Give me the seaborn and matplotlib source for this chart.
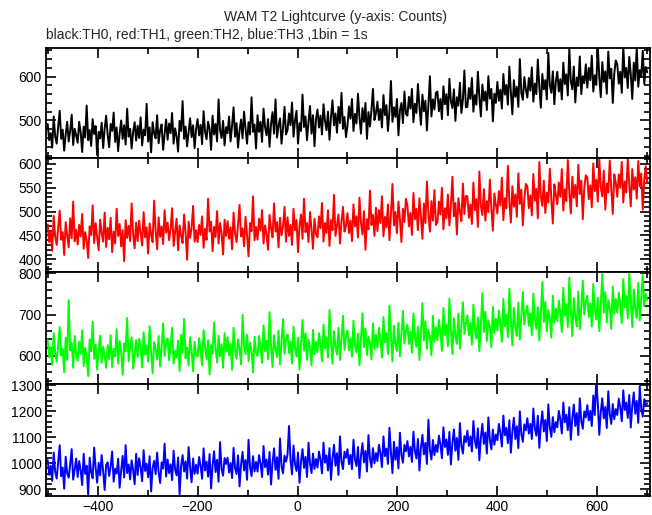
import numpy as np
import pandas as pd
import matplotlib
matplotlib.use("Agg")
import matplotlib.pyplot as plt
from matplotlib.ticker import MultipleLocator
import seaborn as sns

sns.set_style("ticks")
plt.rcParams['font.family'] = ['Liberation Sans', 'DejaVu Sans']

# time bins (s), 3 s sampling of the 1 s light curve
time = np.arange(-500, 701, 3)

th0 = [492, 455, 471, 438, 509, 463, 447, 486, 522, 458, 479, 431, 468, 497, 452, 476, 513, 444, 481, 466,
       449, 497, 473, 428, 486, 461, 534, 455, 478, 442, 503, 469, 487, 421, 474, 459, 495, 437, 482, 511,
       467, 439, 492, 476, 518, 451, 484, 430, 470, 500, 458, 489, 445, 527, 463, 481, 436, 474, 496, 454,
       488, 460, 507, 443, 479, 466, 538, 452, 484, 427, 496, 471, 459, 512, 448, 477, 491, 433, 469, 502,
       456, 493, 471, 517, 447, 482, 464, 429, 499, 476, 544, 458, 486, 441, 473, 505, 462, 489, 437, 480,
       503, 466, 490, 446, 521, 474, 457, 497, 481, 433, 511, 468, 492, 452, 548, 477, 460, 499, 443, 485,
       471, 509, 452, 488, 530, 463, 494, 438, 477, 502, 459, 520, 481, 447, 496, 468, 553, 474, 491, 436,
       512, 474, 497, 451, 527, 485, 466, 503, 440, 492, 519, 470, 548, 461, 488, 505, 447, 483, 531, 468,
       478, 516, 489, 541, 463, 500, 522, 447, 494, 476, 559, 485, 509, 455, 497, 533, 470, 512, 441, 503,
       525, 484, 511, 468, 537, 499, 478, 520, 456, 507, 546, 489, 516, 472, 531, 494, 563, 481, 508, 462,
       488, 532, 504, 549, 476, 515, 493, 561, 507, 470, 528, 497, 540, 458, 519, 486, 524, 572, 501, 517,
       543, 501, 526, 484, 558, 512, 535, 476, 521, 590, 497, 530, 508, 549, 466, 523, 540, 494, 566, 515,
       511, 554, 527, 572, 496, 538, 517, 583, 532, 490, 559, 521, 545, 477, 536, 601, 509, 548, 525, 563,
       566, 521, 549, 503, 578, 537, 560, 512, 595, 544, 528, 571, 499, 553, 534, 586, 517, 547, 614, 530,
       531, 574, 549, 597, 520, 558, 536, 611, 553, 509, 582, 545, 566, 524, 601, 550, 572, 498, 561, 540,
       588, 545, 570, 527, 606, 559, 581, 536, 623, 565, 514, 592, 554, 577, 531, 640, 562, 547, 599, 571,
       552, 597, 568, 621, 543, 584, 560, 639, 576, 529, 606, 571, 592, 548, 654, 580, 563, 612, 537, 589,
       611, 566, 594, 548, 632, 583, 605, 557, 664, 590, 571, 623, 541, 598, 579, 646, 560, 601, 585, 628,
       575, 620, 592, 648, 566, 603, 581, 669, 599, 553, 633, 588, 612, 561, 657, 596, 618, 540, 607, 637,
       628, 584, 611, 563, 671, 598, 620, 574, 645, 606, 549, 632, 591, 668, 577, 615, 600, 659, 583, 622,
       610]

th1 = [473, 436, 459, 418, 491, 447, 430, 466, 502, 441, 457, 409, 478, 450, 425, 486, 444, 521, 438, 462,
       431, 472, 448, 495, 422, 457, 440, 403, 469, 451, 513, 434, 476, 446, 419, 483, 455, 437, 498, 426,
       466, 442, 487, 415, 458, 433, 506, 449, 474, 427, 461, 396, 482, 445, 470, 438, 517, 452, 423, 477,
       438, 481, 455, 429, 499, 446, 467, 412, 475, 451, 436, 523, 460, 421, 488, 447, 469, 432, 503, 456,
       477, 440, 463, 507, 428, 458, 485, 419, 471, 449, 434, 494, 456, 399, 479, 445, 466, 512, 437, 461,
       436, 472, 451, 490, 424, 464, 441, 527, 458, 479, 417, 468, 447, 501, 433, 476, 455, 410, 483, 449,
       480, 443, 467, 421, 498, 455, 436, 472, 514, 448, 465, 427, 489, 451, 406, 476, 459, 532, 440, 468,
       441, 485, 460, 503, 433, 471, 452, 420, 493, 465, 446, 517, 458, 478, 425, 487, 450, 469, 510, 437,
       488, 449, 472, 430, 506, 461, 482, 415, 470, 494, 443, 527, 457, 476, 436, 499, 464, 422, 485, 453,
       446, 490, 465, 518, 437, 476, 455, 503, 428, 482, 461, 535, 449, 472, 494, 433, 479, 510, 458, 470,
       497, 455, 481, 438, 515, 469, 490, 446, 529, 476, 452, 501, 420, 484, 463, 544, 472, 493, 449, 508,
       459, 503, 476, 532, 448, 489, 467, 515, 440, 494, 558, 471, 499, 455, 521, 483, 436, 506, 478, 527,
       512, 469, 497, 451, 539, 484, 506, 461, 528, 490, 443, 517, 476, 563, 495, 458, 522, 481, 545, 472,
       477, 521, 494, 550, 463, 507, 486, 536, 471, 512, 573, 490, 518, 452, 528, 501, 480, 559, 495, 533,
       532, 487, 515, 474, 561, 503, 526, 468, 584, 511, 493, 547, 481, 522, 499, 567, 506, 460, 538, 514,
       496, 543, 513, 571, 482, 528, 507, 596, 521, 477, 553, 510, 536, 489, 580, 516, 546, 471, 527, 558,
       553, 507, 534, 492, 579, 523, 548, 486, 604, 531, 512, 565, 497, 540, 519, 590, 526, 475, 557, 535,
       515, 561, 531, 589, 502, 547, 522, 608, 540, 496, 573, 529, 556, 511, 598, 537, 565, 484, 550, 576,
       572, 526, 555, 509, 601, 543, 567, 521, 610, 551, 532, 586, 504, 559, 540, 607, 547, 495, 578, 561,
       531, 578, 550, 604, 519, 563, 540, 611, 557, 511, 589, 546, 572, 527, 606, 553, 580, 504, 566, 595,
       560]

th2 = [639, 596, 621, 578, 655, 607, 585, 628, 670, 601, 617, 560, 644, 590, 735, 613, 632, 571, 648, 604,
       588, 634, 605, 662, 575, 619, 597, 551, 640, 611, 683, 593, 627, 566, 614, 649, 583, 622, 600, 571,
       626, 592, 650, 573, 617, 599, 664, 581, 636, 608, 554, 630, 611, 692, 587, 621, 645, 569, 603, 638,
       597, 641, 618, 572, 657, 603, 625, 586, 672, 609, 558, 633, 616, 591, 648, 574, 621, 679, 600, 629,
       642, 589, 624, 668, 581, 612, 596, 637, 563, 651, 607, 690, 594, 620, 577, 645, 613, 562, 634, 601,
       598, 643, 611, 577, 662, 620, 592, 638, 555, 626, 605, 681, 617, 584, 649, 599, 628, 571, 655, 610,
       645, 601, 629, 566, 668, 612, 593, 640, 617, 579, 699, 625, 604, 651, 587, 632, 613, 560, 646, 608,
       600, 648, 622, 583, 674, 611, 637, 592, 706, 625, 573, 650, 616, 597, 661, 579, 631, 689, 605, 640,
       652, 607, 635, 581, 671, 618, 598, 644, 566, 629, 687, 612, 655, 590, 639, 620, 577, 663, 604, 634,
       609, 655, 630, 587, 676, 618, 645, 596, 711, 634, 581, 660, 622, 603, 668, 590, 641, 697, 615, 649,
       661, 613, 642, 598, 685, 627, 608, 654, 577, 640, 703, 621, 666, 602, 647, 633, 591, 679, 616, 651,
       620, 668, 639, 596, 694, 633, 655, 604, 722, 647, 586, 673, 628, 612, 680, 599, 652, 709, 630, 661,
       676, 629, 659, 608, 703, 644, 622, 671, 590, 655, 728, 637, 684, 617, 663, 646, 601, 697, 634, 669,
       638, 687, 657, 612, 716, 650, 676, 623, 739, 665, 604, 691, 648, 629, 702, 617, 672, 730, 653, 681,
       698, 650, 680, 627, 724, 664, 642, 693, 611, 677, 752, 658, 707, 636, 686, 669, 621, 719, 655, 690,
       661, 710, 679, 634, 738, 672, 700, 645, 763, 688, 625, 716, 669, 648, 729, 640, 695, 755, 676, 706,
       722, 673, 703, 650, 751, 689, 665, 718, 637, 701, 779, 682, 731, 659, 711, 693, 644, 746, 680, 715,
       684, 734, 703, 658, 765, 697, 725, 670, 790, 712, 648, 740, 694, 671, 756, 664, 719, 782, 700, 731,
       746, 694, 727, 671, 774, 711, 688, 741, 660, 723, 799, 705, 755, 681, 735, 716, 665, 768, 702, 738,
       705, 753, 724, 679, 786, 718, 745, 691, 802, 733, 670, 761, 714, 692, 777, 686, 740, 796, 721, 750,
       735]

th3 = [1012, 955, 990, 932, 1041, 968, 941, 1003, 1069, 950, 983, 902, 1025, 961, 944, 996, 1054, 937, 975, 1018,
       947, 1008, 972, 916, 1036, 959, 990, 878, 1021, 966, 942, 1060, 981, 925, 1002, 953, 1031, 969, 897, 994,
       1003, 951, 987, 1045, 929, 979, 960, 1017, 906, 971, 1028, 945, 1069, 962, 995, 938, 1011, 973, 919, 1036,
       955, 1019, 984, 931, 1050, 970, 998, 946, 1027, 891, 982, 1009, 958, 1041, 966, 924, 1003, 979, 1075, 949,
       1014, 962, 996, 935, 1048, 976, 953, 1022, 880, 989, 1031, 968, 1007, 941, 1062, 985, 927, 1018, 959, 994,
       960, 1024, 989, 940, 1057, 972, 1006, 948, 1035, 903, 991, 1046, 966, 1013, 929, 1081, 979, 952, 1020, 997,
       1021, 964, 1001, 943, 1059, 982, 958, 1030, 911, 995, 1044, 972, 1012, 936, 1090, 986, 950, 1027, 968, 1005,
       968, 1031, 998, 947, 1066, 985, 1014, 956, 1043, 918, 1001, 1057, 974, 1023, 940, 1095, 989, 961, 1029, 1006,
       1033, 1143, 1012, 957, 1068, 996, 970, 1041, 925, 1006, 1054, 982, 1024, 947, 1079, 999, 962, 1037, 978, 1016,
       983, 1045, 1013, 961, 1079, 1002, 1030, 972, 1058, 936, 1019, 1071, 990, 1038, 955, 1103, 1006, 977, 1044, 1021,
       1054, 996, 1032, 977, 1090, 1015, 989, 1062, 943, 1028, 1077, 1003, 1047, 968, 1108, 1019, 984, 1058, 1000, 1039,
       1008, 1071, 1037, 985, 1103, 1027, 1056, 997, 1136, 1044, 962, 1082, 1013, 1061, 980, 1117, 1031, 1002, 1070, 1046,
       1085, 1026, 1063, 1005, 1121, 1047, 1018, 1093, 972, 1058, 1109, 1034, 1078, 997, 1167, 1050, 1014, 1089, 1031, 1070,
       1043, 1106, 1072, 1019, 1138, 1062, 1091, 1032, 1120, 995, 1077, 1130, 1048, 1097, 1013, 1154, 1066, 1037, 1104, 1081,
       1125, 1066, 1103, 1045, 1162, 1087, 1058, 1134, 1011, 1099, 1151, 1074, 1118, 1037, 1176, 1090, 1053, 1129, 1071, 1110,
       1088, 1151, 1117, 1064, 1183, 1107, 1136, 1077, 1165, 1040, 1122, 1175, 1093, 1142, 1058, 1199, 1111, 1082, 1149, 1126,
       1173, 1114, 1151, 1093, 1210, 1135, 1106, 1182, 1059, 1147, 1199, 1122, 1166, 1085, 1226, 1138, 1101, 1177, 1119, 1158,
       1138, 1201, 1167, 1114, 1233, 1157, 1186, 1127, 1215, 1090, 1172, 1225, 1143, 1192, 1108, 1249, 1161, 1132, 1199, 1176,
       1223, 1164, 1201, 1143, 1260, 1185, 1320, 1232, 1109, 1197, 1249, 1172, 1216, 1135, 1276, 1188, 1151, 1227, 1169, 1208,
       1185, 1248, 1214, 1161, 1280, 1204, 1233, 1174, 1262, 1137, 1219, 1272, 1190, 1239, 1155, 1296, 1208, 1179, 1246, 1223,
       1230]

series = [th0, th1, th2, th3]
for s in series:
    if len(s) != len(time):
        raise ValueError(f"length {len(s)} != {len(time)}")
colors = ["#000000", "#ff0000", "#00ff00", "#0000ff"]
ylims = [(415, 666), (374, 613), (531, 804), (874, 1303)]
ymajor = [100, 50, 100, 100]
yminor = [20, 10, 20, 20]

title = "WAM T2 Lightcurve (y-axis: Counts)"
subtitle = "black:TH0, red:TH1, green:TH2, blue:TH3 ,1bin = 1s"

fig = plt.figure(figsize=(6.52, 5.15), dpi=100)
left, right = 45.7 / 652, 650 / 652
edges = [47.7, 157.7, 271.7, 384.3, 496.0]
for i in range(4):
    top = 1 - edges[i] / 515
    bot = 1 - edges[i + 1] / 515
    ax = fig.add_axes([left, bot, right - left, top - bot])
    df = pd.DataFrame({"t": time, "c": series[i]})
    sns.lineplot(data=df, x="t", y="c", ax=ax, color=colors[i], linewidth=1.4,
                 estimator=None, sort=False)
    ax.set_xlim(-504, 705.5)
    ax.set_ylim(*ylims[i])
    ax.xaxis.set_major_locator(MultipleLocator(200))
    ax.xaxis.set_minor_locator(MultipleLocator(100))
    ax.yaxis.set_major_locator(MultipleLocator(ymajor[i]))
    ax.yaxis.set_minor_locator(MultipleLocator(yminor[i]))
    ax.tick_params(which="both", direction="in", top=True, right=True,
                   labelsize=10, colors="black", width=1.2, pad=3)
    ax.tick_params(which="major", length=7)
    ax.tick_params(which="minor", length=4)
    ax.set_xlabel("")
    ax.set_ylabel("")
    for sp in ax.spines.values():
        sp.set_linewidth(1.3)
        sp.set_color("black")
    if i < 3:
        ax.tick_params(labelbottom=False)

fig.text(335 / 652, 1 - 17 / 515, title, ha="center", va="center", fontsize=10)
fig.text(46 / 652, 1 - 35 / 515, subtitle, ha="left", va="center", fontsize=10)

fig.savefig("out.png", dpi=100)
